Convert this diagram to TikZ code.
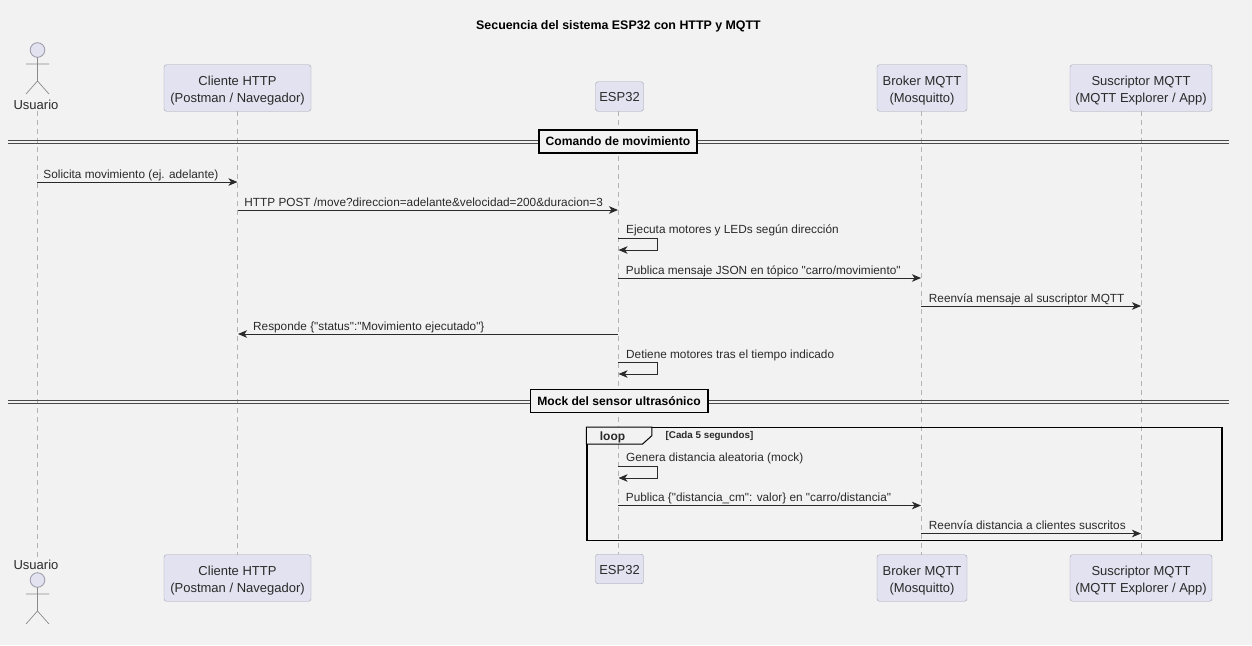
\documentclass[tikz,border=0pt]{standalone}
\usepackage{fontspec}
\setmainfont{Liberation Sans}[Ligatures=TeXOff]
\usetikzlibrary{arrows.meta,positioning,calc}
\definecolor{pagebg}{HTML}{F2F2F2}
\definecolor{boxfill}{HTML}{E2E2F0}
\definecolor{boxline}{HTML}{A0A0AE}
\definecolor{ink}{HTML}{2A2A2A}
\definecolor{lifegray}{HTML}{B4B4B4}
\newcommand{\toplift}{\rule{0pt}{14pt}}
\tikzset{
  actorbox/.style={draw=boxline, rounded corners=2.5pt, fill=boxfill, minimum height=46.5pt,
                   inner xsep=0pt, inner ysep=0pt, font=\fontsize{13}{17}\selectfont\color{ink}, align=center},
  espbox/.style={actorbox, minimum height=29.5pt},
  stick/.style={font=\fontsize{13}{14}\selectfont\color{ink}, inner sep=0pt, minimum height=9pt},
  lifeline/.style={draw=lifegray, dash pattern=on 5pt off 4pt, line width=0.8pt},
  flow/.style={-{Stealth[length=9pt,width=7.5pt,inset=2.5pt]}, line width=0.9pt, draw=ink},
  msg/.style={anchor=base west, inner sep=0pt, font=\fontsize{11.8}{13}\selectfont\color{ink}},
  sect/.style={draw=black, line width=1.6pt, fill=pagebg, inner xsep=7pt, inner ysep=0pt, minimum height=23pt,
               font=\fontsize{12.1}{14}\selectfont\bfseries\color{black}},
  rule/.style={draw=ink!85, line width=0.9pt}
}
\begin{document}
\begin{tikzpicture}[x=1pt,y=-1pt]
    \useasboundingbox[fill=pagebg] (0,0) rectangle (1252,645);

    \node[font=\fontsize{12.4}{14}\selectfont\bfseries\color{black}] (titulo) at (618.5,26) {Secuencia del sistema ESP32 con HTTP y MQTT};

    \node[stick] (usuario) at (36,104.5) {Usuario};
    \node[actorbox, minimum width=147pt] (cliente) at (237.5,88) {\toplift Cliente HTTP\\(Postman / Navegador)};
    \node[espbox, minimum width=48pt] (esp) at (619.5,96.5) {\rule{0pt}{11pt}ESP32};
    \node[actorbox, minimum width=90pt] (broker) at (922,88) {\toplift Broker MQTT\\(Mosquitto)};
    \node[actorbox, minimum width=142pt] (suscriptor) at (1141,88) {\toplift Suscriptor MQTT\\(MQTT Explorer / App)};

    \node[stick] (usuarioB) at (36,564.5) {Usuario};
    \node[actorbox, minimum width=147pt] (clienteB) at (237.5,578) {\toplift Cliente HTTP\\(Postman / Navegador)};
    \node[espbox, minimum width=48pt] (espB) at (619.5,569) {\rule{0pt}{11pt}ESP32};
    \node[actorbox, minimum width=90pt] (brokerB) at (922,578) {\toplift Broker MQTT\\(Mosquitto)};
    \node[actorbox, minimum width=142pt] (suscriptorB) at (1141,578) {\toplift Suscriptor MQTT\\(MQTT Explorer / App)};

    \draw[lifeline] ($(usuario.south)+(1,2)$) -- ($(usuarioB.north)+(1,-2)$);
    \draw[lifeline] (cliente) -- (clienteB);
    \draw[lifeline] ($(esp.south)+(-1.5,0)$) -- ($(espB.north)+(-1.5,0)$);
    \draw[lifeline] ($(broker.south)+(-1,0)$) -- ($(brokerB.north)+(-1,0)$);
    \draw[lifeline] (suscriptor) -- (suscriptorB);

    \foreach \ypos/\yoff in {50/0, 580/530} {
      \draw[draw=boxline, fill=boxfill, line width=0.9pt] (37.5,\ypos) circle (7.3);
      \draw[draw=ink!55, line width=0.7pt] (37.5,\yoff+57.3) -- (37.5,\yoff+81)
        (26,\yoff+64) -- (49,\yoff+64) (26,\yoff+94) -- (37.5,\yoff+81) -- (49,\yoff+94);
    }

    \foreach \ypos in {140.5,143.5,400.2,403.2}
      \draw[rule] (8,\ypos) -- (1229,\ypos);
    \node[sect] (comando) at (618,141.5) {Comando de movimiento};
    \node[sect] (mock) at (619,401) {Mock del sensor ultrasónico};

    \node[draw=black, line width=1.2pt, minimum width=635pt, minimum height=112.5pt, inner sep=0pt] (loopframe) at (904.5,484) {};
    \draw[draw=black, line width=1pt, fill=pagebg] (loopframe.north west) -- ++(65.5,0) -- ++(0,8.5)
      -- ++(-9.5,8.5) -- ++(-56,0) -- cycle;
    \node[font=\fontsize{12}{14}\selectfont\bfseries\color{ink}, inner sep=0pt] (looplabel) at (612.5,437) {loop};
    \node[font=\fontsize{9.8}{11}\selectfont\bfseries\color{ink}, inner sep=0pt, anchor=west] (guarda) at (665.5,436) {[Cada 5 segundos]};

    \draw[flow] ($(usuario |- 0,182)+(1,0)$) -- node[msg, at start, xshift=6pt, yshift=4pt] {Solicita movimiento (ej. adelante)} (cliente |- 0,182);
    \draw[flow] (cliente |- 0,210) -- node[msg, at start, xshift=6.5pt, yshift=4pt] {HTTP POST /move?direccion=adelante\&velocidad=200\&duracion=3} ($(esp |- 0,210)+(-1.5,0)$);
    \draw[flow] ($(esp |- 0,238)+(-1.5,0)$) -- ++(39.5,0) -- ++(0,12) -- ($(esp |- 0,250)+(-1,0)$);
    \node[msg] (ejecuta) at (626,233.5) {Ejecuta motores y LEDs según dirección};
    \draw[flow] ($(esp |- 0,278)+(-1.5,0)$) -- node[msg, at start, xshift=7.5pt, yshift=4pt] {Publica mensaje JSON en tópico "carro/movimiento"} ($(broker |- 0,278)+(-1,0)$);
    \draw[flow] ($(broker |- 0,306)+(-1,0)$) -- node[msg, at start, xshift=7.5pt, yshift=4pt] {Reenvía mensaje al suscriptor MQTT} (suscriptor |- 0,306);
    \draw[flow] ($(esp |- 0,334)+(-1.5,0)$) -- ($(cliente |- 0,334)+(0.5,0)$);
    \node[msg] (responde) at (253,330) {Responde \{"status":"Movimiento ejecutado"\}};
    \draw[flow] ($(esp |- 0,362)+(-1.5,0)$) -- ++(39.5,0) -- ++(0,12) -- ($(esp |- 0,374)+(-1,0)$);
    \node[msg] (detiene) at (626,358) {Detiene motores tras el tiempo indicado};

    \draw[flow] ($(esp |- 0,466)+(-1.5,0)$) -- ++(39.5,0) -- ++(0,12) -- ($(esp |- 0,478)+(-1,0)$);
    \node[msg] (genera) at (626,461) {Genera distancia aleatoria (mock)};
    \draw[flow] ($(esp |- 0,505.5)+(-1.5,0)$) -- node[msg, at start, xshift=7.5pt, yshift=4pt] {Publica \{"distancia\_cm": valor\} en "carro/distancia"} ($(broker |- 0,505.5)+(-1,0)$);
    \draw[flow] ($(broker |- 0,533.5)+(-1,0)$) -- node[msg, at start, xshift=7.5pt, yshift=4pt] {Reenvía distancia a clientes suscritos} (suscriptor |- 0,533.5);
\end{tikzpicture}
\end{document}
